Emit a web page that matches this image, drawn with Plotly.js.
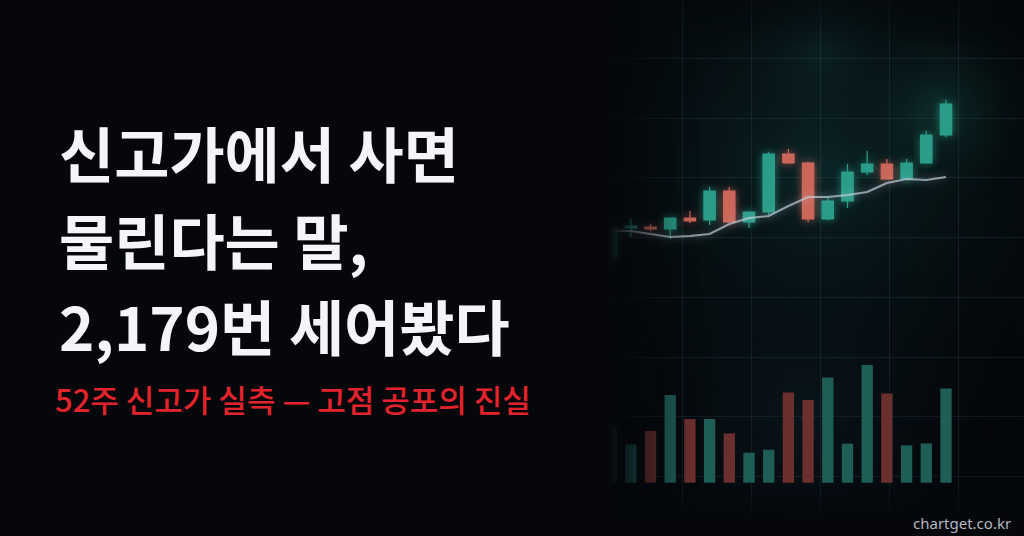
<!DOCTYPE html>
<html>
<head>
<meta charset="utf-8">
<script src="https://cdn.plot.ly/plotly-3.0.1.min.js"></script>
<style>
  html, body { margin: 0; padding: 0; background: #05070b; }
  #chart { width: 1024px; height: 536px; }
</style>
</head>
<body>
<div id="chart"></div>
<script>
// Sessions (the first one sits almost fully inside the left fade)
var sessions = [0, 1, 2, 3, 4, 5, 6, 7, 8, 9, 10, 11, 12, 13, 14, 15, 16, 17];
var openP  = [343, 372, 373, 371, 382, 380, 409, 378, 388, 446, 437, 381, 399, 428, 436, 421, 437, 465];
var highP  = [372, 381, 376, 382, 389, 413, 413, 388, 448, 451, 438, 402, 436, 449, 441, 441, 469, 500];
var lowP   = [338, 363, 369, 361, 377, 375, 377, 372, 385, 437, 378, 380, 392, 425, 421, 421, 437, 463];
var closeP = [372, 374, 371, 382, 379, 409, 378, 388, 446, 437, 381, 399, 428, 436, 421, 437, 465, 496];
var movingAvg = [369, 369, 366, 363, 364, 366, 376, 382, 384, 394, 403, 403, 405, 408, 417, 421, 420, 423];
var volume = [560, 383, 517, 877, 637, 637, 493, 300, 330, 903, 827, 1053, 390, 1177, 893, 373, 393, 943];

var titleLines = ['신고가에서 사면', '물린다는 말,', '2,179번 세어봤다'];
var subtitle = '52주 신고가 실측 — 고점 공포의 진실';
var watermark = 'chartget.co.kr';

var UP = '#2a9d89', DOWN = '#cb665a';
var BG = [5, 7, 11];

// volume colour follows the candle direction
var volColors = closeP.map((c, i) => c >= openP[i] ? '#1f5d57' : '#6b302e');

// background glow, painted on a canvas and used as a layout image
function glowImage() {
    var cv = document.createElement('canvas');
    cv.width = 1024; cv.height = 536;
    var ctx = cv.getContext('2d');
    var spots = [
        [820, 170, 340, 'rgba(18,62,64,0.55)'],
        [940, 110, 110, 'rgba(30,110,98,0.30)'],
        [820, 50, 120, 'rgba(22,70,70,0.25)'],
        [800, 420, 260, 'rgba(14,36,46,0.45)']
    ];
    for (let s of spots) {
        let g = ctx.createRadialGradient(s[0], s[1], 0, s[0], s[1], s[2]);
        g.addColorStop(0, s[3]);
        g.addColorStop(1, 'rgba(0,0,0,0)');
        ctx.fillStyle = g;
        ctx.fillRect(0, 0, 1024, 536);
    }
    return cv.toDataURL();
}

// fade that hides the chart towards the left and bottom
function fadeImage() {
    var cv = document.createElement('canvas');
    cv.width = 1024; cv.height = 536;
    var ctx = cv.getContext('2d');
    var img = ctx.createImageData(1024, 536);
    function ramp(v, a, b) { return Math.min(1, Math.max(0, (v - a) / (b - a))); }
    for (let y = 0; y < 536; y++) {
        for (let x = 0; x < 1024; x++) {
            let left = Math.pow(1 - ramp(x, 608, 700), 1.5);
            let bottom = ramp(y, 485, 520);
            let top = 0.4 * (1 - ramp(y, 0, 45));
            let a = Math.max(left, bottom, top);
            let k = (y * 1024 + x) * 4;
            img.data[k] = BG[0]; img.data[k + 1] = BG[1]; img.data[k + 2] = BG[2];
            img.data[k + 3] = Math.round(a * 255);
        }
    }
    ctx.putImageData(img, 0, 0);
    return cv.toDataURL();
}

var traces = [
    {
        type: 'bar',
        x: sessions,
        y: volume,
        yaxis: 'y2',
        width: 0.575,
        marker: { color: volColors, line: { width: 0 } },
        hoverinfo: 'skip'
    },
    {
        type: 'candlestick',
        x: sessions,
        open: openP, high: highP, low: lowP, close: closeP,
        increasing: { line: { color: UP, width: 1.2 }, fillcolor: UP },
        decreasing: { line: { color: DOWN, width: 1.2 }, fillcolor: DOWN },
        whiskerwidth: 0,
        hoverinfo: 'skip'
    },
    {
        type: 'scatter',
        mode: 'lines',
        x: sessions,
        y: movingAvg,
        line: { color: 'rgba(195,205,220,0.7)', width: 2, shape: 'linear' },
        hoverinfo: 'skip'
    }
];

var gridColor = 'rgba(70,125,135,0.16)';

var layout = {
    width: 1024,
    height: 536,
    margin: { l: 0, r: 0, t: 0, b: 0 },
    paper_bgcolor: '#05070b',
    plot_bgcolor: 'rgba(0,0,0,0)',
    showlegend: false,
    boxgap: 0.425,
    boxgroupgap: 0,
    xaxis: {
        range: [-31.02, 20.96],
        showgrid: true, gridcolor: gridColor, gridwidth: 1,
        tick0: 0.15, dtick: 3.5,
        showticklabels: false, zeroline: false, showline: false,
        rangeslider: { visible: false }
    },
    yaxis: {
        range: [64, 600],
        showgrid: true, gridcolor: gridColor, gridwidth: 1,
        tick0: 541.5, dtick: 59.7,
        showticklabels: false, zeroline: false, showline: false
    },
    yaxis2: {
        range: [-533, 4827],
        overlaying: 'y',
        showgrid: false, showticklabels: false, zeroline: false, showline: false
    },
    images: [
        { source: glowImage(), xref: 'paper', yref: 'paper', x: 0, y: 1, sizex: 1, sizey: 1,
          sizing: 'stretch', xanchor: 'left', yanchor: 'top', layer: 'below' },
        { source: fadeImage(), xref: 'paper', yref: 'paper', x: 0, y: 1, sizex: 1, sizey: 1,
          sizing: 'stretch', xanchor: 'left', yanchor: 'top', layer: 'above' }
    ],
    annotations: []
};

// title block, one annotation per line
var lineY = [152, 238, 324];
titleLines.forEach((t, i) => {
    layout.annotations.push({
        text: t, xref: 'paper', yref: 'paper',
        x: 57 / 1024, y: 1 - lineY[i] / 536,
        xanchor: 'left', yanchor: 'middle', showarrow: false,
        font: { family: 'Noto Sans CJK KR', size: 60, color: '#f4f5f8', weight: 700 }
    });
});
layout.annotations.push({
    text: subtitle, xref: 'paper', yref: 'paper',
    x: 53 / 1024, y: 1 - 398 / 536,
    xanchor: 'left', yanchor: 'middle', showarrow: false,
    font: { family: 'Noto Sans CJK KR', size: 31, color: '#e3232c', weight: 500 }
});
layout.annotations.push({
    text: watermark, xref: 'paper', yref: 'paper',
    x: 1013 / 1024, y: 1 - 523 / 536,
    xanchor: 'right', yanchor: 'middle', showarrow: false,
    font: { family: 'Noto Sans, sans-serif', size: 15, color: '#b4b8c0' }
});

Plotly.newPlot('chart', traces, layout, { staticPlot: true, displayModeBar: false }).then(function (gd) {
    // soft glow around candles and line
    var svg = gd.querySelector('svg.main-svg');
    var ns = 'http://www.w3.org/2000/svg';
    var defs = document.createElementNS(ns, 'defs');
    defs.innerHTML =
        '<filter id="glow" x="-50%" y="-50%" width="200%" height="200%">' +
        '<feGaussianBlur in="SourceGraphic" stdDeviation="4" result="b"/>' +
        '<feComponentTransfer in="b" result="bb"><feFuncA type="linear" slope="0.7"/></feComponentTransfer>' +
        '<feMerge><feMergeNode in="bb"/><feMergeNode in="SourceGraphic"/></feMerge></filter>';
    svg.insertBefore(defs, svg.firstChild);
    gd.querySelectorAll('.boxlayer, .scatterlayer').forEach(function (el) {
        el.setAttribute('filter', 'url(#glow)');
    });
});
</script>
</body>
</html>
